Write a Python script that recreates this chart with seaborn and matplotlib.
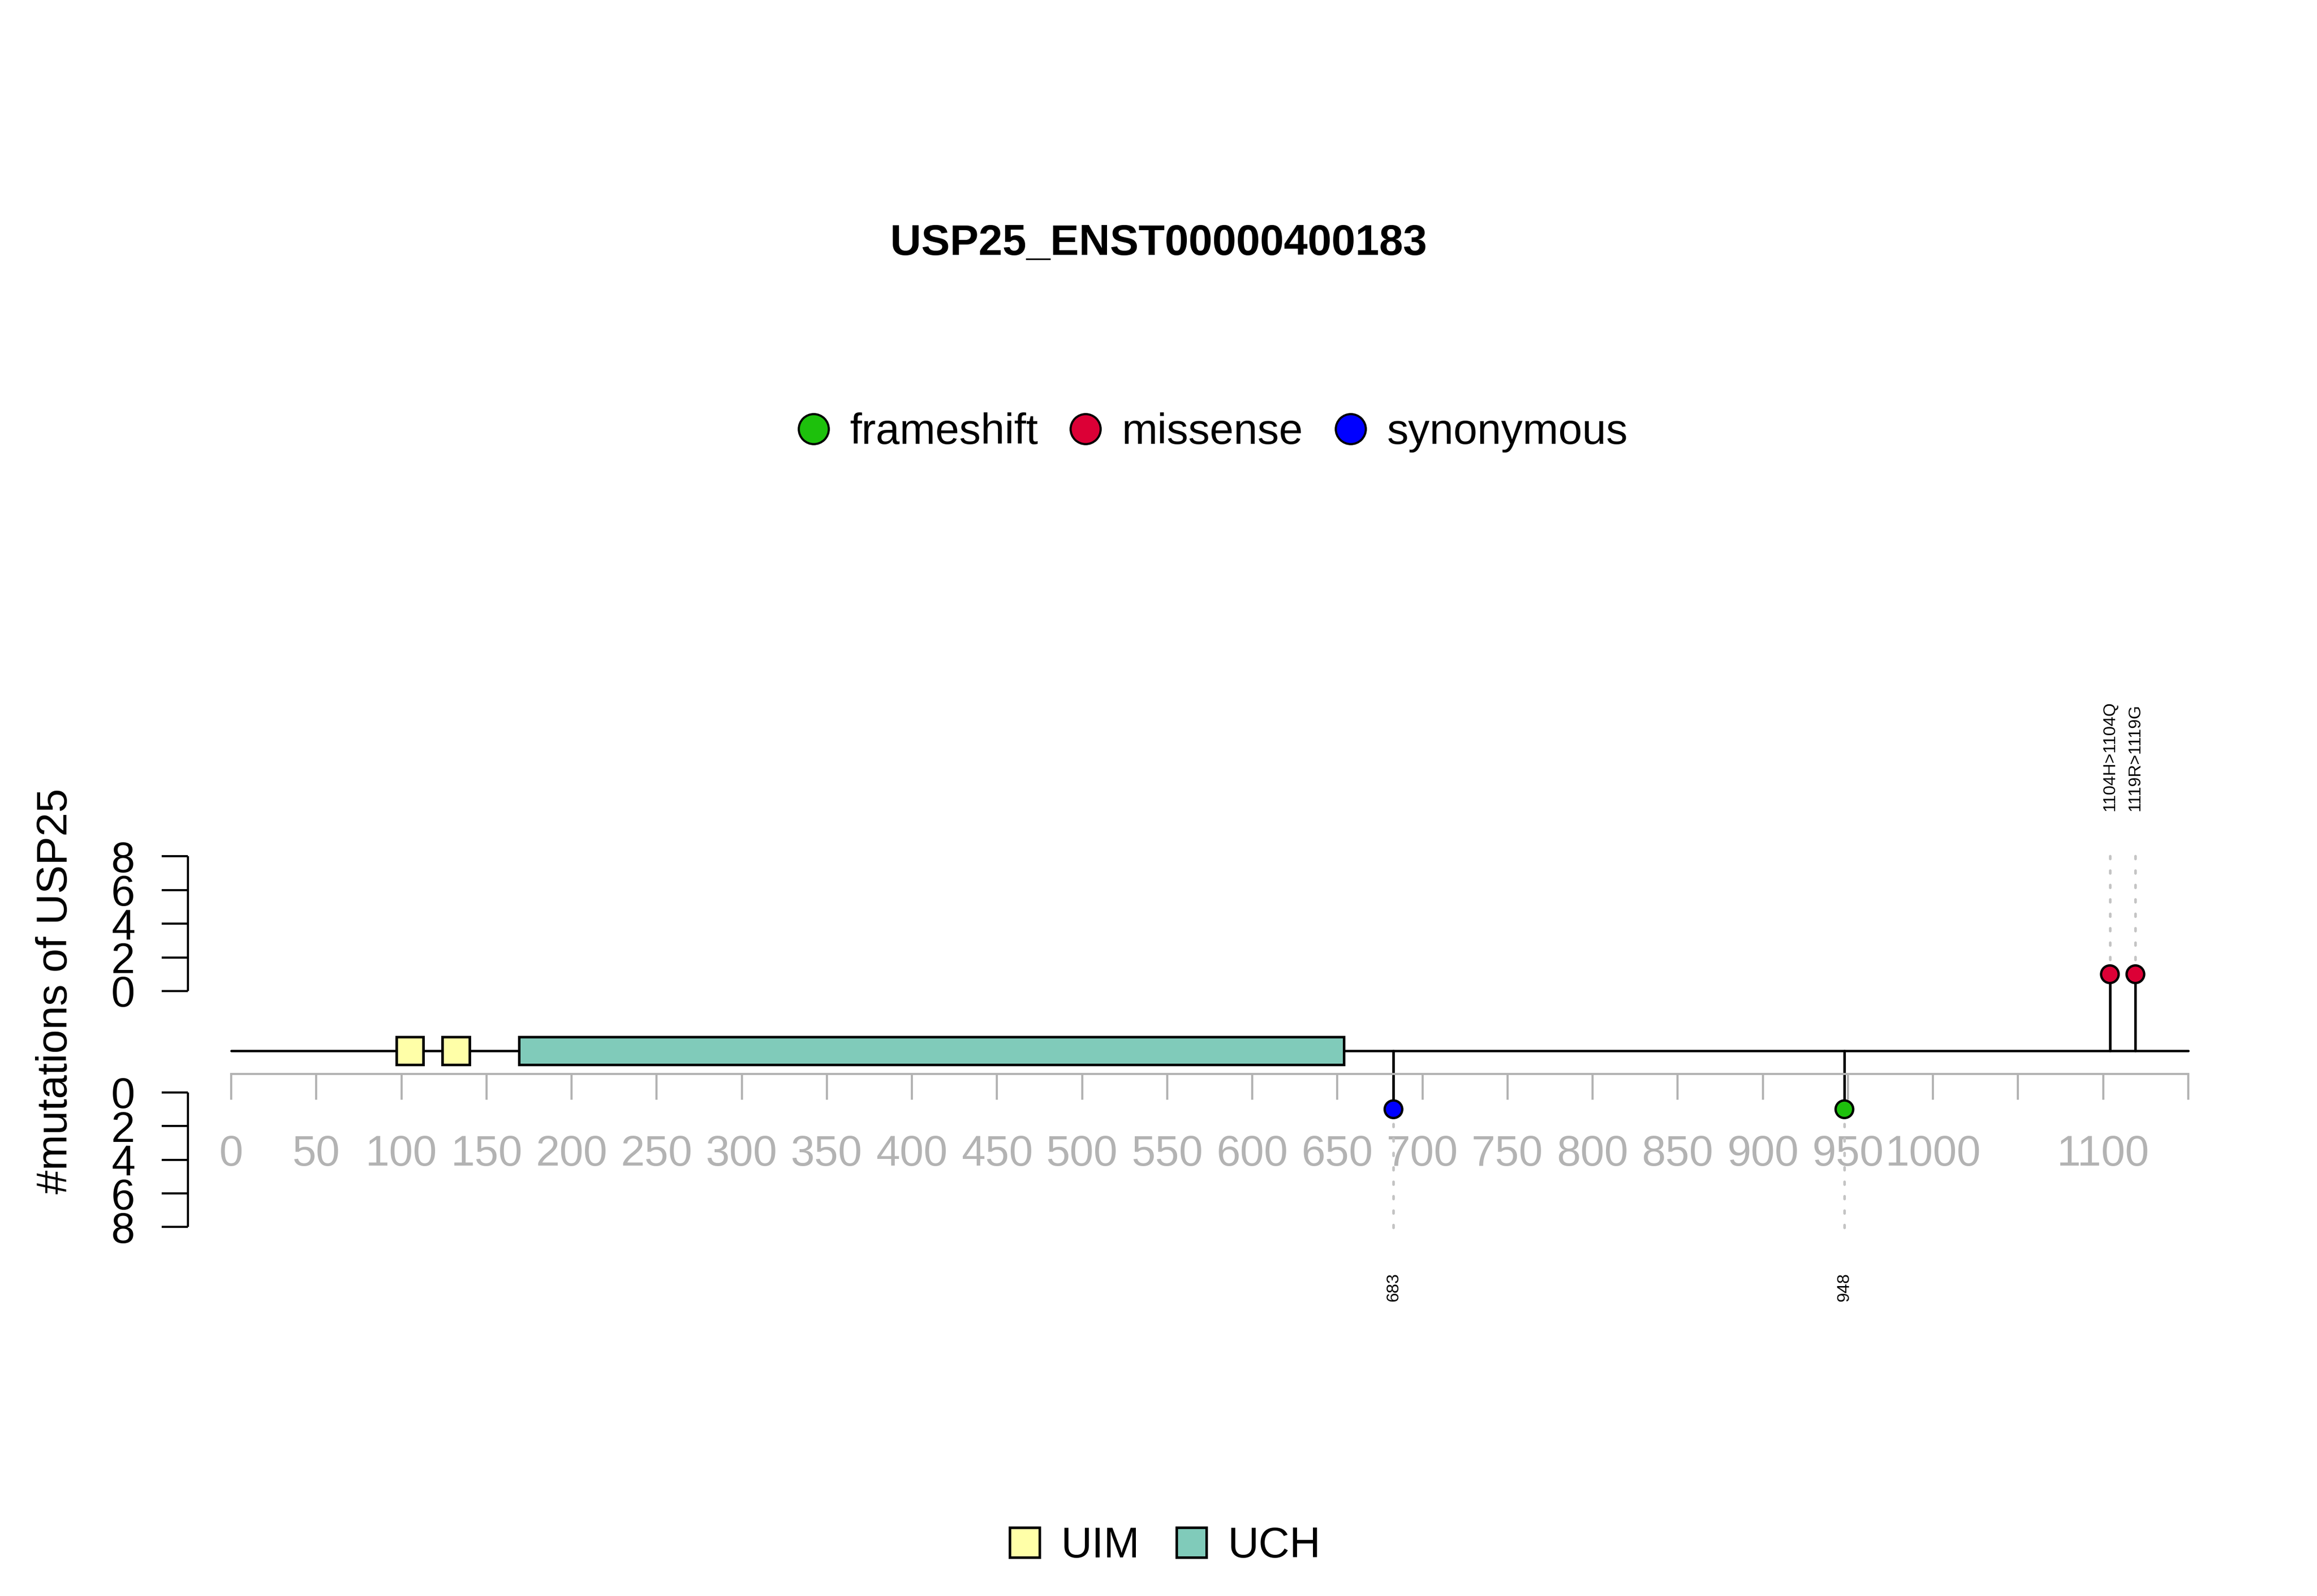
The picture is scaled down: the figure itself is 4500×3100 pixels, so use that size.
import matplotlib
matplotlib.use("Agg")
import matplotlib.pyplot as plt
from matplotlib.lines import Line2D
from matplotlib.patches import Patch
import seaborn as sns
import pandas as pd

# ---- data ----
TITLE = "USP25_ENST00000400183"
GENE = "USP25"
PROTEIN_LENGTH = 1150

domain_names = ["UIM", "UIM", "UCH"]
domain_start = [97, 124, 169]
domain_end = [113, 140, 654]

mut_pos = [683, 948, 1104, 1119]
mut_count = [1, 1, 1, 1]
mut_type = ["synonymous", "frameshift", "missense", "missense"]
mut_label = ["683", "948", "1104H>1104Q", "1119R>1119G"]
mut_side = ["down", "down", "up", "up"]

type_order = ["frameshift", "missense", "synonymous"]
type_colors = {"frameshift": "#1DC10C", "missense": "#DC0036", "synonymous": "#0000FF"}
domain_order = ["UIM", "UCH"]
domain_colors = {"UIM": "#FFFFA8", "UCH": "#80CBBA"}

x_ticks = list(range(0, PROTEIN_LENGTH + 1, 50))
count_ticks = [0, 2, 4, 6, 8]

# ---- layout (figure pixels -> data units) ----
W, H = 4500, 3100
X0_PX, PX_PER_AA = 449, 3.305
Y0_PX, PX_PER_UNIT = 1925, 32.7
TRACK_Y = -3.55        # protein backbone
BOX_HALF = 0.83
XAXIS_Y = -4.92        # grey position axis
LOW0 = -6.02           # zero of the lower count scale
SPINE_X = -25.4
GUIDE_TOP = 8.3
LABEL_OFF = 10.7

sns.set_theme(style="white")
plt.rcParams["font.family"] = ["Liberation Sans", "DejaVu Sans"]
plt.rcParams["text.color"] = "black"
plt.rcParams["axes.labelcolor"] = "black"

df = pd.DataFrame({"pos": mut_pos, "count": mut_count, "type": mut_type,
                   "label": mut_label, "side": mut_side})
df["head_y"] = [c if s == "up" else LOW0 - c for c, s in zip(df["count"], df["side"])]

fig = plt.figure(figsize=(W / 300, H / 300), dpi=300)
ax = fig.add_axes([0, 0, 1, 1])
ax.set_xlim(-X0_PX / PX_PER_AA, (W - X0_PX) / PX_PER_AA)
ax.set_ylim(-(H - Y0_PX) / PX_PER_UNIT, Y0_PX / PX_PER_UNIT)

# backbone and domains
ax.plot([0, PROTEIN_LENGTH], [TRACK_Y, TRACK_Y], color="black", lw=1.1, zorder=2)
ax.barh([TRACK_Y] * len(domain_names),
        [e - s for s, e in zip(domain_start, domain_end)],
        left=domain_start, height=2 * BOX_HALF,
        color=[domain_colors[d] for d in domain_names],
        edgecolor="black", linewidth=1.2, zorder=3)

# stems, guides and labels
for _, r in df.iterrows():
    ax.plot([r.pos, r.pos], [TRACK_Y, r.head_y], color="black", lw=1.2, zorder=2)
    if r.side == "up":
        ax.plot([r.pos, r.pos], [r.head_y, GUIDE_TOP], color="#C4C4C4", lw=1.2,
                linestyle=(0, (1.1, 4.5)), dash_capstyle="round", zorder=1)
        ax.text(r.pos, LABEL_OFF, r.label, rotation=90, ha="center", va="bottom",
                fontsize=8, color="black")
    else:
        ax.plot([r.pos, r.pos], [r.head_y, LOW0 - GUIDE_TOP], color="#C4C4C4", lw=1.2,
                linestyle=(0, (1.1, 4.5)), dash_capstyle="round", zorder=1)
        ax.text(r.pos, LOW0 - LABEL_OFF, r.label, rotation=90, ha="center", va="top",
                fontsize=8, color="black")

sns.scatterplot(data=df, x="pos", y="head_y", hue="type", palette=type_colors,
                s=8.2 ** 2, edgecolor="black", linewidth=1.1, legend=False, zorder=4, ax=ax)

# axes styling
for side in ["top", "right"]:
    ax.spines[side].set_visible(False)
ax.spines["bottom"].set_position(("data", XAXIS_Y))
ax.spines["bottom"].set_bounds(0, PROTEIN_LENGTH)
ax.spines["bottom"].set_color("#B3B3B3")
ax.spines["bottom"].set_linewidth(1.0)
ax.spines["left"].set_position(("data", SPINE_X))
ax.spines["left"].set_visible(False)
ax.vlines([SPINE_X, SPINE_X], [0, LOW0 - 8], [8, LOW0], color="black", lw=1.0)

ax.set_xticks(x_ticks)
ax.set_xticklabels(["" if t in (1050, 1150) else str(t) for t in x_ticks])
ax.set_yticks(count_ticks + [LOW0 - t for t in count_ticks])
ax.set_yticklabels([str(t) for t in count_ticks] * 2)
ax.tick_params(axis="x", bottom=True, direction="out", length=12, width=1.0,
               color="#B3B3B3", labelcolor="#B3B3B3", labelsize=20, pad=16)
ax.tick_params(axis="y", left=True, direction="out", length=12.2, width=1.0,
               color="black", labelcolor="black", labelsize=20, pad=12.5)
ax.set_xlabel("")
ax.set_ylabel("")
ax.set_facecolor("white")

fig.text(0.5, 1 - 495 / H, TITLE, ha="center", va="baseline", fontsize=20,
         fontweight="bold", color="black")
fig.text(108 / W, 1 - 1925 / H, f"#mutations of {GENE}", rotation=90,
         ha="center", va="center", fontsize=20, color="black")

mut_handles = [Line2D([], [], marker="o", linestyle="none", markersize=14,
                      markerfacecolor=type_colors[t], markeredgecolor="black",
                      markeredgewidth=1.0, label=t) for t in type_order]
leg1 = fig.legend(handles=mut_handles, loc="center", bbox_to_anchor=(2354 / W, 1 - 840 / H),
                  ncol=3, frameon=False, fontsize=20, handlelength=0.8,
                  handletextpad=0.45, columnspacing=0.7, borderpad=0, labelcolor="black")

dom_handles = [Patch(facecolor=domain_colors[d], edgecolor="black", linewidth=1.2, label=d)
               for d in domain_order]
leg2 = fig.legend(handles=dom_handles, loc="center", bbox_to_anchor=(2263 / W, 1 - 3003 / H),
                  ncol=2, frameon=False, fontsize=20, handlelength=0.7, handleheight=0.7,
                  handletextpad=0.5, columnspacing=0.85, borderpad=0, labelcolor="black")

fig.savefig("out.png", dpi=300, facecolor="white")
